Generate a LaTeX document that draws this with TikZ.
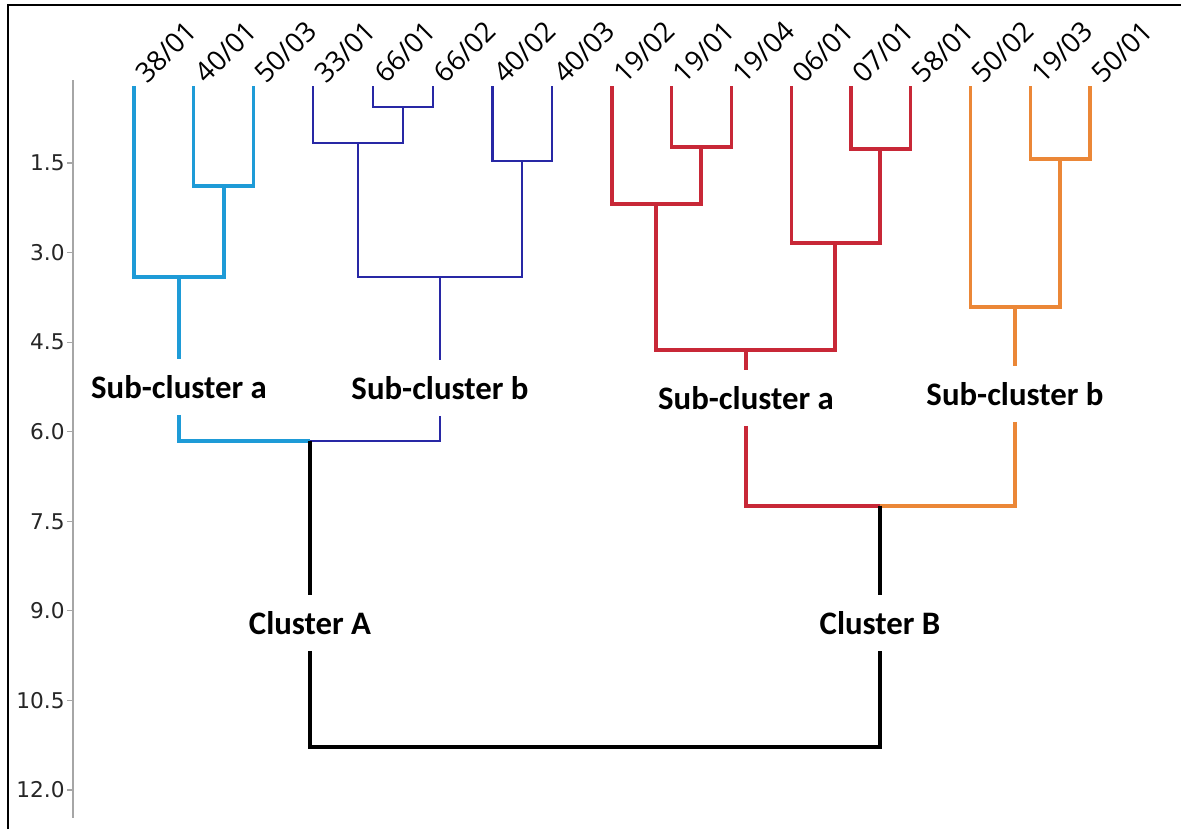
\documentclass[tikz,border=0pt]{standalone}
\usepackage{fontspec}
\setmainfont{Open Sans}
\newfontfamily\grpfont{Carlito}
\newfontfamily\axfont{DejaVu Sans}
\definecolor{subcyan}{RGB}{30,155,215}
\definecolor{subblue}{RGB}{40,40,165}
\definecolor{subred}{RGB}{200,40,55}
\definecolor{suborange}{RGB}{235,135,55}

\begin{document}
\begin{tikzpicture}[x=0.03cm, y=-0.03cm,
	leaf/.style={font=\fontsize{23.5}{23.5}\selectfont, rotate=45, anchor=base west, inner sep=0pt},
	ticklab/.style={font=\axfont\fontsize{18.5}{18.5}\selectfont, text=black!85, anchor=east, inner sep=1pt},
	grp/.style={font=\grpfont\bfseries\fontsize{28}{28}\selectfont, inner sep=0pt, minimum height=47pt},
	cyanl/.style={subcyan, line width=2.8pt},
	bluel/.style={subblue, line width=1.8pt},
	redl/.style={subred, line width=2.8pt},
	orgl/.style={suborange, line width=2.8pt},
	blkl/.style={black, line width=2.8pt}]
	\useasboundingbox (0,0) rectangle (1181,829);
	\draw[line width=1pt] (8,829) -- (8,5) -- (1181,5);
	% axis
	\draw[gray!70, line width=1.6pt] (73,80) -- (73,818);
	\foreach \v [count=\k from 0] in {1.5,3.0,4.5,6.0,7.5,9.0,10.5,12.0} {
		\draw[gray!70, line width=1pt] (67,{163+89.57*\k}) -- (73,{163+89.57*\k});
		\node[ticklab] (y\k) at (66,{163+89.57*\k}) {\v};
	}
	% leaves
	\foreach \a/\b [count=\i from 0] in {38/01,40/01,50/03,33/01,66/01,66/02,40/02,40/03,19/02,19/01,19/04,06/01,07/01,58/01,50/02,19/03,50/01} {
		\coordinate (l\i) at ({134+59.75*\i},86);
		\node[leaf] (t\i) at ([shift={(13,-1)}]l\i) {\a/\b};
	}
	% merges
	\coordinate (c1) at (224,186);
	\coordinate (c2) at (179,277);
	\coordinate (b1) at (403,107);
	\coordinate (b2) at (358,143);
	\coordinate (b3) at (522,161);
	\coordinate (b4) at (440,277);
	\coordinate (r1) at (701,147);
	\coordinate (r2) at (656,204);
	\coordinate (r3) at (880,149);
	\coordinate (r4) at (835,243);
	\coordinate (r5) at (746,350);
	\coordinate (o1) at (1060,159);
	\coordinate (o2) at (1015,307);
	\coordinate (kA) at (310,441);
	\coordinate (kB) at (880,506);
	\coordinate (root) at (595,747);
	% group labels
	\node[grp] (sa1) at (179,387) {Sub-cluster a};
	\node[grp] (sb1) at (440,388) {Sub-cluster b};
	\node[grp] (sa2) at (746,398) {Sub-cluster a};
	\node[grp] (sb2) at (1015,394) {Sub-cluster b};
	\node[grp] (cA) at (310,623) {Cluster A};
	\node[grp] (cB) at (880,623) {Cluster B};
	% cluster A
	\draw[cyanl] (l1) |- (c1) -| (l2);
	\draw[cyanl] (l0) |- (c2) -| (c1);
	\draw[cyanl] (c2) -- (sa1);
	\draw[cyanl] (sa1) |- (kA);
	\draw[bluel] (l4) |- (b1) -| (l5);
	\draw[bluel] (l3) |- (b2) -| (b1);
	\draw[bluel] (l6) |- (b3) -| (l7);
	\draw[bluel] (b2) |- (b4) -| (b3);
	\draw[bluel] (b4) -- (sb1);
	\draw[bluel] (sb1) |- (kA);
	% cluster B
	\draw[redl] (l9) |- (r1) -| (l10);
	\draw[redl] (l8) |- (r2) -| (r1);
	\draw[redl] (l12) |- (r3) -| (l13);
	\draw[redl] (l11) |- (r4) -| (r3);
	\draw[redl] (r2) |- (r5) -| (r4);
	\draw[redl] (r5) -- (sa2);
	\draw[redl] (sa2) |- (kB);
	\draw[orgl] (l15) |- (o1) -| (l16);
	\draw[orgl] (l14) |- (o2) -| (o1);
	\draw[orgl] (o2) -- (sb2);
	\draw[orgl] (sb2) |- (kB);
	% root
	\draw[blkl] (kA) -- (cA);
	\draw[blkl] (kB) -- (cB);
	\draw[blkl] (cA) |- (root) -| (cB);
\end{tikzpicture}
\end{document}
